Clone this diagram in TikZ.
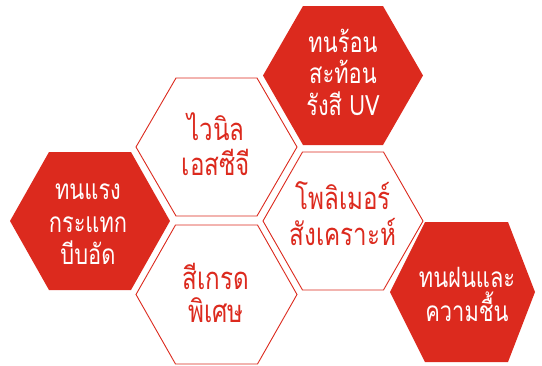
\documentclass[tikz,border=0pt]{standalone}
\usepackage{graphicx}
\usepackage{fontspec}
\newfontfamily\thaifont[Script=Thai]{Loma}
\definecolor{hexred}{RGB}{220,42,30}
\newcommand\hexshape[6]{\path[#1] ({#2-#4},#3) -- ({#2-#5},{#3-#6}) -- ({#2+#5},{#3-#6}) -- ({#2+#4},#3) -- ({#2+#5},{#3+#6}) -- ({#2-#5},{#3+#6}) -- cycle;}
\newcommand\narrow[1]{\scalebox{0.78}[1]{#1}}
\begin{document}
\begin{tikzpicture}[x=1pt,y=-1pt,
  solidhex/.style={fill=hexred,draw=none},
  linehex/.style={draw=hexred,line width=0.9pt,fill=white},
  redtext/.style={text=white,font=\thaifont\fontsize{28}{31}\selectfont,anchor=base,inner sep=0pt},
  outtext/.style={text=hexred,font=\thaifont\fontsize{31}{35}\selectfont,anchor=base,inner sep=0pt}]
\useasboundingbox (0,0) rectangle (542,365);
% hexagons
\hexshape{solidhex}{343}{75.5}{80}{40}{69.5}
\hexshape{linehex}{216.5}{147}{80.5}{40.5}{69}
\hexshape{linehex}{216.5}{294.5}{80.5}{41}{69.5}
\hexshape{solidhex}{90}{221}{80}{41}{69}
\hexshape{linehex}{343}{221}{80}{40.5}{69}
\path[solidhex] (390,292) -- (425,222) -- (508,222) -- (535,292) -- (508,362) -- (425,362) -- cycle;
% texts
\node[redtext] (t1a) at (343,52) {\narrow{ทนร้อน}};
\node[redtext] (t1b) at (343,83) {\narrow{สะท้อน}};
\node[redtext] (t1c) at (343,115) {\narrow{รังสี UV}};
\node[redtext] (t2a) at (88,199) {\narrow{ทนแรง}};
\node[redtext] (t2b) at (88,232) {\narrow{กระแทก}};
\node[redtext] (t2c) at (88,264) {\narrow{บีบอัด}};
\node[redtext] (t3a) at (467,287) {\narrow{ทนฝนและ}};
\node[redtext] (t3b) at (467,321) {\narrow{ความชื้น}};
\node[outtext] (o1a) at (216,140) {\narrow{ไวนิล}};
\node[outtext] (o1b) at (216,175) {\narrow{เอสซีจี}};
\node[outtext] (o2a) at (216,289) {\narrow{สีเกรด}};
\node[outtext] (o2b) at (216,322) {\narrow{พิเศษ}};
\node[outtext] (o3a) at (343,209) {\narrow{โพลิเมอร์}};
\node[outtext] (o3b) at (343,245) {\narrow{สังเคราะห์}};
\end{tikzpicture}
\end{document}
